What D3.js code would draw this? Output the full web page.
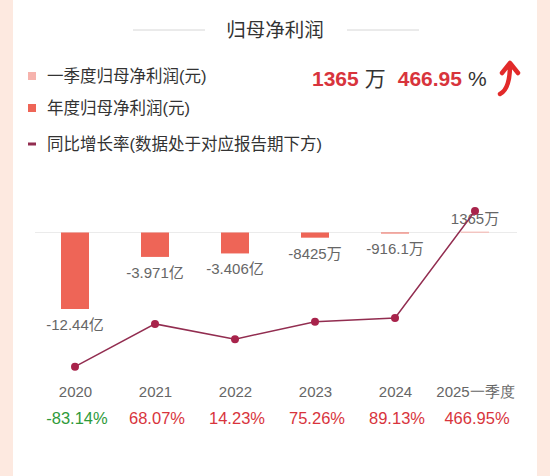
<!DOCTYPE html>
<html>
<head>
<meta charset="utf-8">
<script src="https://cdn.jsdelivr.net/npm/d3@7"></script>
<style>
  html, body { margin: 0; padding: 0; background: #fde9e0; }
  svg { display: block; font-family: "Liberation Sans", "Noto Sans CJK SC", sans-serif; }
</style>
</head>
<body>
<div class="chart"></div>
<script>
// chart data
const categories = ["2020", "2021", "2022", "2023", "2024", "2025一季度"];
const periodType = ["annual", "annual", "annual", "annual", "annual", "quarter"];
const profit = [-12.44, -3.971, -3.406, -0.8425, -0.09161, 0.1365]; // 亿元
const profitLabels = ["-12.44亿", "-3.971亿", "-3.406亿", "-8425万", "-916.1万", "1365万"];
const growth = [-83.14, 68.07, 14.23, 75.26, 89.13, 466.95]; // %
const legendItems = ["一季度归母净利润(元)", "年度归母净利润(元)", "同比增长率(数据处于对应报告期下方)"];
const headValue = "1365";
const headRate = "466.95";

const outWidth = 550, outHeight = 476;
const colors = {annual: "#ee6557", quarter: "#f6b3ad", line: "#922d50", dot: "#a8234b",
  up: "#d8343c", down: "#2e9a3a", text: "#333", grey: "#666"};

const svg = d3.select(".chart").append("svg")
  .attr("width", outWidth)
  .attr("height", outHeight);

// white card
svg.append("rect")
  .attr("x", 13).attr("y", 0)
  .attr("width", 524).attr("height", outHeight)
  .attr("fill", "#fff");

// title
svg.append("text")
  .attr("x", 275).attr("y", 37)
  .attr("text-anchor", "middle")
  .attr("font-size", 19.5)
  .attr("fill", colors.text)
  .text("归母净利润");
[[133, 205], [347, 419]].forEach(d => {
  svg.append("line")
    .attr("x1", d[0]).attr("x2", d[1])
    .attr("y1", 30).attr("y2", 30)
    .attr("stroke", "#d6d6d6").attr("stroke-width", 1);
});

// legend
const legend = svg.append("g");
const legendY = [76, 108, 144];
legend.append("rect").attr("x", 28).attr("y", legendY[0] - 4).attr("width", 8).attr("height", 8).attr("fill", colors.quarter);
legend.append("rect").attr("x", 28).attr("y", legendY[1] - 4).attr("width", 8).attr("height", 8).attr("fill", colors.annual);
legend.append("rect").attr("x", 28).attr("y", legendY[2] - 1.5).attr("width", 8).attr("height", 3).attr("fill", colors.line);
legend.selectAll("text.leg")
  .data(legendItems)
  .enter().append("text")
  .attr("class", "leg")
  .attr("x", 47)
  .attr("y", (d, i) => legendY[i] + 6)
  .attr("font-size", 16.5)
  .attr("fill", colors.text)
  .text(d => d);

// headline numbers
const head = svg.append("text")
  .attr("x", 312).attr("y", 86)
  .attr("font-size", 21);
head.append("tspan").attr("font-weight", "bold").attr("fill", colors.up).text(headValue);
head.append("tspan").attr("fill", colors.text).attr("dx", 6).text("万");
head.append("tspan").attr("font-weight", "bold").attr("fill", colors.up).attr("dx", 12).text(headRate);
head.append("tspan").attr("fill", colors.text).attr("dx", 6).text("%");
svg.append("path")
  .attr("d", "M500,94 Q510,89 510,65 M502,73 L510,63 L518,73")
  .attr("fill", "none")
  .attr("stroke", "#e22a2a")
  .attr("stroke-width", 4.5)
  .attr("stroke-linecap", "round")
  .attr("stroke-linejoin", "round");

// scales
const xScale = d3.scalePoint()
  .domain(categories)
  .range([35, 515])
  .padding(0.5);
const yBar = d3.scaleLinear()
  .domain([-12.44, 0])
  .range([309, 232.5]);
const yLine = d3.scaleLinear()
  .domain([-83.14, 466.95])
  .range([366.7, 211]);
const barW = 28;

const data = categories.map((c, i) => ({
  cat: c, type: periodType[i], value: profit[i], label: profitLabels[i], growth: growth[i]
}));

// zero line
svg.append("line")
  .attr("x1", 35).attr("x2", 517)
  .attr("y1", yBar(0)).attr("y2", yBar(0))
  .attr("stroke", "#ebebeb").attr("stroke-width", 1);

// bars
svg.selectAll("rect.bar")
  .data(data)
  .enter().append("rect")
  .attr("class", "bar")
  .attr("x", d => xScale(d.cat) - barW / 2)
  .attr("width", barW)
  .attr("y", d => Math.min(yBar(d.value), yBar(0)))
  .attr("height", d => Math.max(Math.abs(yBar(d.value) - yBar(0)), 1))
  .attr("fill", d => colors[d.type]);

// bar labels
svg.selectAll("text.blabel")
  .data(data)
  .enter().append("text")
  .attr("class", "blabel")
  .attr("x", d => xScale(d.cat))
  .attr("y", d => d.value < 0 ? yBar(d.value) + 21 : yBar(0) - 9)
  .attr("text-anchor", "middle")
  .attr("font-size", 15)
  .attr("fill", colors.grey)
  .text(d => d.label);

// growth line
const line = d3.line()
  .x(d => xScale(d.cat))
  .y(d => yLine(d.growth));
svg.append("path")
  .datum(data)
  .attr("d", line)
  .attr("fill", "none")
  .attr("stroke", colors.line)
  .attr("stroke-width", 1.5);
svg.selectAll("circle.dot")
  .data(data)
  .enter().append("circle")
  .attr("class", "dot")
  .attr("cx", d => xScale(d.cat))
  .attr("cy", d => yLine(d.growth))
  .attr("r", 4)
  .attr("fill", colors.dot);

// x axis labels
const xAxis = d3.axisBottom(xScale).tickSize(0).tickPadding(0);
const axisG = svg.append("g")
  .attr("transform", "translate(0, 386)")
  .call(xAxis);
axisG.select(".domain").remove();
axisG.selectAll("text")
  .attr("font-size", 15)
  .attr("font-family", null)
  .attr("fill", colors.grey);

// growth labels
svg.selectAll("text.glabel")
  .data(data)
  .enter().append("text")
  .attr("class", "glabel")
  .attr("x", d => xScale(d.cat) + 2)
  .attr("y", 424)
  .attr("text-anchor", "middle")
  .attr("font-size", 16.5)
  .attr("fill", d => d.growth < 0 ? colors.down : colors.up)
  .text(d => d.growth.toFixed(2) + "%");
</script>
</body>
</html>
